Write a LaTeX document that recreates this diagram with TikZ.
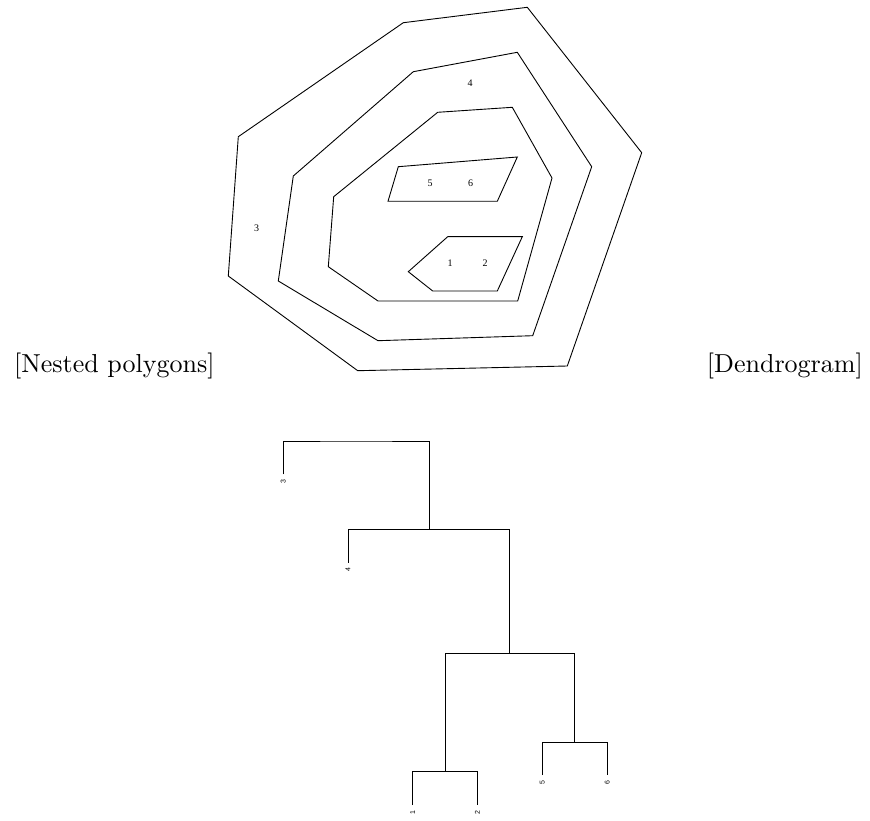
\documentclass[tikz,border=0pt]{standalone}
\usepackage{fontspec}
\newfontfamily\polyfont{Liberation Serif}
\newfontfamily\leaffont{Liberation Sans}
\begin{document}
\begin{tikzpicture}[x=1pt,y=-1pt,
  edge/.style={line width=0.9pt, line join=miter},
  plabel/.style={font=\polyfont\fontsize{10}{12}\selectfont, inner sep=0pt},
  leaf/.style={font=\leaffont\fontsize{7}{8}\selectfont, inner sep=0pt, rotate=90, anchor=east},
  caption/.style={font=\fontsize{10}{12}\selectfont, inner sep=0pt}]
\useasboundingbox (0,0) rectangle (870,821);

% ---- nested polygons ----
\draw[edge] (403.3,22.7) -- (527.3,7.3) -- (641.7,152.7) -- (567.3,366) -- (357.7,370.7) -- (228.3,276) -- (238.3,136.7) -- cycle;
\draw[edge] (413.3,71.7) -- (517.3,52.3) -- (591.7,166.7) -- (532.7,335.7) -- (378,340.7) -- (278.3,281) -- (293.3,176) -- cycle;
\draw[edge] (437.7,112.3) -- (512.3,107.3) -- (552,178) -- (517.7,301) -- (378,301) -- (328.3,266.7) -- (333.7,196.7) -- cycle;
\draw[edge] (398.3,166.7) -- (517.3,157) -- (497.3,201.3) -- (388,201.3) -- cycle;
\draw[edge] (447.7,236.7) -- (522.3,236.7) -- (497.3,291) -- (432.7,291) -- (408.3,271.7) -- cycle;

\node[plabel] (p3) at (256.7,228.7) {3};
\node[plabel] (p4) at (470,83.3) {4};
\node[plabel] (p5) at (430,183.3) {5};
\node[plabel] (p6) at (470.7,183.3) {6};
\node[plabel] (p1) at (450,263.3) {1};
\node[plabel] (p2) at (485,263.3) {2};

% ---- captions ----
\node[caption, anchor=base west] (capA) at (14,372) {\scalebox{2.6}{[Nested polygons]}};
\node[caption, anchor=base east] (capB) at (863,372) {\scalebox{2.6}{[Dendrogram]}};

% ---- dendrogram ----
\coordinate (l3) at (283.3,474.3);
\coordinate (l4) at (348,562.7);
\coordinate (l1) at (412.7,805);
\coordinate (l2) at (477.3,805);
\coordinate (l5) at (542.3,775);
\coordinate (l6) at (607.3,775);
\coordinate (m12) at (445,771.7);
\coordinate (m56) at (574.3,742.3);
\coordinate (m1256) at (509.7,653.7);
\coordinate (m4) at (429,529.3);
\coordinate (mtop) at (356,441);

\draw[edge] (l1) |- (m12) -| (l2);
\draw[edge] (l5) |- (m56) -| (l6);
\draw[edge] (445,771.7) |- (m1256) -| (574.3,742.3);
\draw[edge] (l4) |- (m4) -| (509.7,653.7);
\draw[edge] (l3) |- (mtop) -| (429,529.3);

\node[leaf] (t3) at ([yshift=-5pt]l3) {3};
\node[leaf] (t4) at ([yshift=-5pt]l4) {4};
\node[leaf] (t1) at ([yshift=-5pt]l1) {1};
\node[leaf] (t2) at ([yshift=-5pt]l2) {2};
\node[leaf] (t5) at ([yshift=-5pt]l5) {5};
\node[leaf] (t6) at ([yshift=-5pt]l6) {6};
\end{tikzpicture}
\end{document}
